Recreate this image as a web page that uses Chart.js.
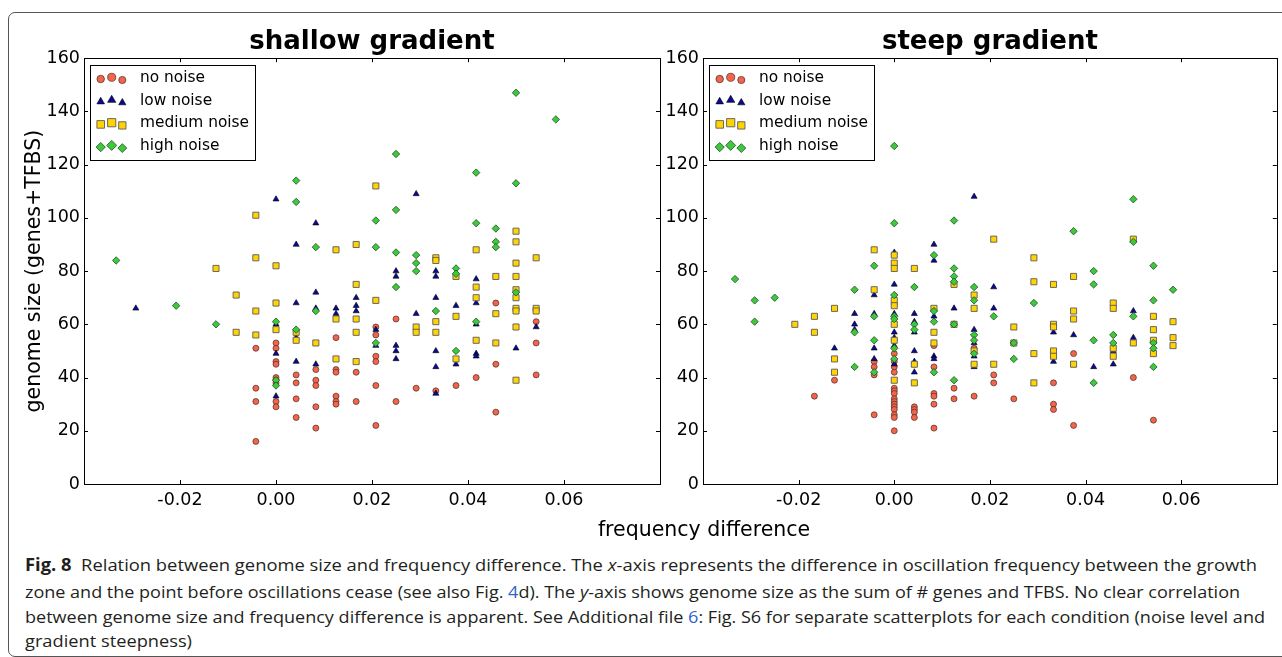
<!DOCTYPE html>
<html>
<head>
<meta charset="utf-8">
<script src="https://cdn.jsdelivr.net/npm/chart.js@4.4.1/dist/chart.umd.min.js"></script>
<style>
  html, body { margin: 0; padding: 0; background: #fff; }
  body { width: 1282px; height: 657px; position: relative; overflow: hidden; font-family: "DejaVu Sans", sans-serif; }
  #frame { position: absolute; left: 8px; top: 12px; width: 1300px; height: 643px; border: 1px solid #555; border-radius: 7px; }
  .plot { position: absolute; top: 0; }
  #xlabel { position: absolute; left: 504px; width: 400px; top: 517px; text-align: center; font-size: 20.5px; line-height: 24px; color: #000; }
  .cap { position: absolute; left: 25px; white-space: nowrap; font-family: "Open Sans", sans-serif; font-size: 17px; line-height: 24px; color: #231f20; transform-origin: 0 50%; }
  .cap b { font-weight: 700; }
  .cap .lnk { color: #2f5fd0; }
</style>
</head>
<body>
<div id="frame"></div>
<div class="plot" style="left:0px"><canvas id="shallow" width="672" height="520"></canvas></div>
<div class="plot" style="left:640px"><canvas id="steep" width="642" height="520"></canvas></div>
<div id="xlabel">frequency difference</div>
<div class="cap" data-w="1232" style="top:553px"><b>Fig. 8</b>&nbsp; Relation between genome size and frequency difference. The <i>x</i>-axis represents the difference in oscillation frequency between the growth</div>
<div class="cap" data-w="1215" style="top:580px">zone and the point before oscillations cease (see also Fig. <span class="lnk">4</span>d). The <i>y</i>-axis shows genome size as the sum of # genes and TFBS. No clear correlation</div>
<div class="cap" data-w="1240" style="top:605px">between genome size and frequency difference is apparent. See Additional file <span class="lnk">6</span>: Fig. S6 for separate scatterplots for each condition (noise level and</div>
<div class="cap" data-w="167" style="top:629px">gradient steepness)</div>

<script>
// axis ticks
const xTicks = [-0.02, 0.00, 0.02, 0.04, 0.06];
const yTicks = [0, 20, 40, 60, 80, 100, 120, 140, 160];
const seriesNames = ["no noise", "low noise", "medium noise", "high noise"];

// shallow gradient: [frequency difference, genome size]
const shallowNone = [
    [-0.0042, 51], [-0.0042, 36], [-0.0042, 31], [-0.0042, 16],
    [0, 53], [0, 51], [0, 46], [0, 45], [0, 40], [0, 39], [0, 38], [0, 31], [0, 29],
    [0.0042, 41], [0.0042, 38], [0.0042, 32], [0.0042, 25],
    [0.0083, 43], [0.0083, 39], [0.0083, 37], [0.0083, 29], [0.0083, 21],
    [0.0125, 55], [0.0125, 43], [0.0125, 42], [0.0125, 33], [0.0125, 31], [0.0125, 30],
    [0.0167, 42], [0.0167, 31],
    [0.0208, 59], [0.0208, 56], [0.0208, 48], [0.0208, 46], [0.0208, 37], [0.0208, 22],
    [0.025, 62], [0.025, 31],
    [0.0292, 36], [0.0333, 35], [0.0375, 37], [0.0417, 40],
    [0.0458, 68], [0.0458, 45], [0.0458, 27],
    [0.0542, 61], [0.0542, 53], [0.0542, 41]
];
const shallowLow = [
    [-0.0292, 66],
    [0, 107], [0, 60], [0, 49], [0, 33],
    [0.0042, 90], [0.0042, 68], [0.0042, 55], [0.0042, 46],
    [0.0083, 98], [0.0083, 72], [0.0083, 66], [0.0083, 45],
    [0.0125, 66], [0.0125, 64],
    [0.0167, 70], [0.0167, 67], [0.0167, 65],
    [0.0208, 58], [0.0208, 52],
    [0.025, 80], [0.025, 78], [0.025, 52], [0.025, 50], [0.025, 47],
    [0.0292, 109], [0.0292, 64],
    [0.0333, 80], [0.0333, 78], [0.0333, 70], [0.0333, 50], [0.0333, 44], [0.0333, 34],
    [0.0375, 67], [0.0375, 45],
    [0.0417, 77], [0.0417, 68], [0.0417, 60], [0.0417, 49], [0.0417, 48],
    [0.05, 51], [0.0542, 59]
];
const shallowMedium = [
    [-0.0125, 81],
    [-0.0083, 71], [-0.0083, 57],
    [-0.0042, 101], [-0.0042, 85], [-0.0042, 65], [-0.0042, 56],
    [0, 82], [0, 68], [0, 58],
    [0.0042, 57], [0.0042, 54],
    [0.0083, 53],
    [0.0125, 88], [0.0125, 62], [0.0125, 47],
    [0.0167, 90], [0.0167, 75], [0.0167, 62], [0.0167, 57], [0.0167, 46],
    [0.0208, 112], [0.0208, 69],
    [0.0292, 59], [0.0292, 57],
    [0.0333, 85], [0.0333, 84], [0.0333, 61], [0.0333, 57],
    [0.0375, 78], [0.0375, 63], [0.0375, 47],
    [0.0417, 88], [0.0417, 74], [0.0417, 70], [0.0417, 54],
    [0.0458, 78], [0.0458, 64], [0.0458, 53],
    [0.05, 95], [0.05, 91], [0.05, 83], [0.05, 78], [0.05, 73], [0.05, 70], [0.05, 66], [0.05, 65], [0.05, 59], [0.05, 39],
    [0.0542, 85], [0.0542, 66], [0.0542, 65]
];
const shallowHigh = [
    [-0.0333, 84], [-0.0208, 67], [-0.0125, 60],
    [0, 61], [0, 39], [0, 37],
    [0.0042, 114], [0.0042, 106], [0.0042, 58],
    [0.0083, 89], [0.0083, 65],
    [0.0208, 99], [0.0208, 89], [0.0208, 53],
    [0.025, 124], [0.025, 103], [0.025, 87], [0.025, 74],
    [0.0292, 86], [0.0292, 83], [0.0292, 80],
    [0.0333, 65],
    [0.0375, 81], [0.0375, 79], [0.0375, 50],
    [0.0417, 117], [0.0417, 98], [0.0417, 61],
    [0.0458, 96], [0.0458, 91], [0.0458, 89],
    [0.05, 147], [0.05, 113], [0.05, 72],
    [0.0583, 137]
];

// steep gradient
const steepNone = [
    [-0.0167, 33], [-0.0125, 39],
    [-0.0042, 46], [-0.0042, 44], [-0.0042, 41], [-0.0042, 26],
    [0, 49], [0, 46], [0, 44], [0, 42], [0, 36], [0, 35], [0, 34], [0, 32], [0, 31], [0, 30], [0, 29], [0, 28], [0, 26], [0, 25], [0, 20],
    [0.0042, 29], [0.0042, 28], [0.0042, 27], [0.0042, 25],
    [0.0083, 52], [0.0083, 44], [0.0083, 34], [0.0083, 33], [0.0083, 30], [0.0083, 21],
    [0.0125, 36], [0.0125, 32],
    [0.0167, 51], [0.0167, 33],
    [0.0208, 41], [0.0208, 38],
    [0.025, 32],
    [0.0333, 38], [0.0333, 30], [0.0333, 28],
    [0.0375, 49], [0.0375, 22],
    [0.05, 40], [0.0542, 24]
];
const steepLow = [
    [-0.0125, 51],
    [-0.0083, 64], [-0.0083, 60], [-0.0083, 58],
    [-0.0042, 71], [-0.0042, 64], [-0.0042, 51], [-0.0042, 47],
    [0, 87], [0, 75], [0, 68], [0, 64], [0, 57], [0, 55], [0, 52], [0, 45],
    [0.0042, 64], [0.0042, 61], [0.0042, 57], [0.0042, 50], [0.0042, 46], [0.0042, 42],
    [0.0083, 90], [0.0083, 84], [0.0083, 63], [0.0083, 48], [0.0083, 47],
    [0.0125, 66],
    [0.0167, 108], [0.0167, 58], [0.0167, 53], [0.0167, 48], [0.0167, 44],
    [0.0208, 74], [0.0208, 66],
    [0.0333, 57], [0.0333, 46],
    [0.0375, 56], [0.0417, 44],
    [0.0458, 50], [0.0458, 45],
    [0.05, 65], [0.05, 55]
];
const steepMedium = [
    [-0.0208, 60],
    [-0.0167, 63], [-0.0167, 57],
    [-0.0125, 66], [-0.0125, 47], [-0.0125, 42],
    [-0.0042, 88], [-0.0042, 73],
    [0, 86], [0, 83], [0, 81], [0, 69], [0, 67], [0, 60], [0, 54], [0, 39],
    [0.0042, 81], [0.0042, 45], [0.0042, 38],
    [0.0083, 66], [0.0083, 57], [0.0083, 53],
    [0.0125, 75], [0.0125, 60],
    [0.0167, 71], [0.0167, 66], [0.0167, 50], [0.0167, 45],
    [0.0208, 92], [0.0208, 45],
    [0.025, 59], [0.025, 53],
    [0.0292, 85], [0.0292, 76], [0.0292, 49], [0.0292, 38],
    [0.0333, 75], [0.0333, 60], [0.0333, 59], [0.0333, 50], [0.0333, 48],
    [0.0375, 78], [0.0375, 65], [0.0375, 62], [0.0375, 45],
    [0.0458, 68], [0.0458, 66], [0.0458, 51], [0.0458, 48],
    [0.05, 92], [0.05, 53],
    [0.0542, 63], [0.0542, 58], [0.0542, 54], [0.0542, 49],
    [0.0583, 61], [0.0583, 55], [0.0583, 52]
];
const steepHigh = [
    [-0.0333, 77],
    [-0.0292, 69], [-0.0292, 61],
    [-0.025, 70],
    [-0.0083, 73], [-0.0083, 57], [-0.0083, 44],
    [-0.0042, 82], [-0.0042, 63], [-0.0042, 54], [-0.0042, 42],
    [0, 127], [0, 98], [0, 71], [0, 63], [0, 62], [0, 51], [0, 47],
    [0.0042, 74], [0.0042, 60], [0.0042, 58],
    [0.0083, 86], [0.0083, 65], [0.0083, 61], [0.0083, 42],
    [0.0125, 99], [0.0125, 81], [0.0125, 78], [0.0125, 76], [0.0125, 60], [0.0125, 39],
    [0.0167, 74], [0.0167, 69], [0.0167, 56], [0.0167, 54], [0.0167, 49],
    [0.0208, 63],
    [0.025, 53], [0.025, 47],
    [0.0292, 68],
    [0.0375, 95],
    [0.0417, 80], [0.0417, 75], [0.0417, 54], [0.0417, 38],
    [0.0458, 56], [0.0458, 53],
    [0.05, 107], [0.05, 91], [0.05, 63],
    [0.0542, 82], [0.0542, 69], [0.0542, 53], [0.0542, 51], [0.0542, 44],
    [0.0583, 73]
];

// marker look per noise level (matplotlib-like)
const markerStyles = [
    { pointStyle: "circle",   pointRadius: 3.0, backgroundColor: "#f2654b", borderColor: "#4a2a24", borderWidth: 0.7, order: 4 },
    { pointStyle: "triangle", pointRadius: 3.5, backgroundColor: "#0a0a96", borderColor: "#000000", borderWidth: 0.6, order: 3 },
    { pointStyle: "rect",     pointRadius: 4.3, backgroundColor: "#ffd400", borderColor: "#5a5a5a", borderWidth: 0.9, order: 2 },
    { pointStyle: "rectRot",  pointRadius: 3.7, backgroundColor: "#3ec83e", borderColor: "#1f4f1f", borderWidth: 0.8, order: 1 }
];

// three legend markers per entry: [dx, dy, scale]
const legendMarks = [[10.7, 1, 1.25], [21.7, -0.7, 1.35], [32.3, 2, 1.2]];

function drawMarker(ctx, style, r, x, y) {
    ctx.fillStyle = style.backgroundColor;
    ctx.strokeStyle = style.borderColor;
    ctx.lineWidth = style.borderWidth;
    Chart.helpers.drawPoint(ctx, { pointStyle: style.pointStyle, radius: r, borderWidth: style.borderWidth, rotation: 0 }, x, y);
}

const markerLegend = {
    id: "markerLegend",
    afterDraw(chart) {
        const ctx = chart.ctx, a = chart.chartArea;
        const bx = Math.round(a.left + 6), by = Math.round(a.top + 6.5), bw = 165, bh = 95;
        ctx.save();
        ctx.fillStyle = "#fff";
        ctx.fillRect(bx, by, bw, bh);
        ctx.strokeStyle = "#000";
        ctx.lineWidth = 1;
        ctx.strokeRect(bx + 0.5, by + 0.5, bw, bh);
        chart.data.datasets.forEach((ds, i) => {
            const cy = by + 13 + i * 22.7;
            legendMarks.forEach(([dx, dy, s]) => drawMarker(ctx, markerStyles[i], ds.pointRadius * s, bx + dx, cy + dy));
            ctx.fillStyle = "#000";
            ctx.font = '15.4px "DejaVu Sans"';
            ctx.textBaseline = "middle";
            ctx.textAlign = "left";
            ctx.fillText(ds.label, bx + 50, cy);
        });
        ctx.restore();
    }
};

// box round the plot and inward tick marks on all four sides
const frameTicks = {
    id: "frameTicks",
    afterDatasetsDraw(chart) {
        const ctx = chart.ctx, a = chart.chartArea, sx = chart.scales.x, sy = chart.scales.y;
        ctx.save();
        ctx.strokeStyle = "#000";
        ctx.lineWidth = 1;
        ctx.beginPath();
        xTicks.forEach(v => {
            const px = Math.round(sx.getPixelForValue(v)) + 0.5;
            ctx.moveTo(px, a.bottom); ctx.lineTo(px, a.bottom - 4);
            ctx.moveTo(px, a.top); ctx.lineTo(px, a.top + 4);
        });
        yTicks.forEach(v => {
            const py = Math.round(sy.getPixelForValue(v)) + 0.5;
            ctx.moveTo(a.left, py); ctx.lineTo(a.left + 4, py);
            ctx.moveTo(a.right, py); ctx.lineTo(a.right - 4, py);
        });
        ctx.stroke();
        ctx.strokeRect(Math.round(a.left) + 0.5, Math.round(a.top) + 0.5, Math.round(a.right - a.left), Math.round(a.bottom - a.top));
        ctx.restore();
    }
};

function makeChart(id, title, groups, yAxisWidth, pad, showYTitle) {
    const tickFont = { family: "DejaVu Sans", size: 17.5 };
    return new Chart(document.getElementById(id), {
        type: "scatter",
        data: {
            datasets: groups.map((pts, i) => Object.assign({
                label: seriesNames[i],
                data: pts.map(p => ({ x: p[0], y: p[1] }))
            }, markerStyles[i]))
        },
        options: {
            responsive: false,
            animation: false,
            devicePixelRatio: 1,
            layout: { padding: pad },
            plugins: {
                legend: { display: false },
                tooltip: { enabled: false },
                title: {
                    display: true,
                    text: title,
                    fullSize: false,
                    color: "#000",
                    font: { family: "DejaVu Sans", size: 26, weight: "bold" },
                    padding: { top: 27, bottom: 0 }
                }
            },
            scales: {
                x: {
                    type: "linear",
                    min: -0.04,
                    max: 0.08,
                    afterBuildTicks: s => { s.ticks = xTicks.map(v => ({ value: v })); },
                    afterFit: s => { s.height = 36; },
                    grid: { display: false, drawTicks: false },
                    border: { display: false },
                    ticks: { color: "#000", font: tickFont, padding: 6, maxRotation: 0, callback: v => v.toFixed(2) }
                },
                y: {
                    min: 0,
                    max: 160,
                    afterBuildTicks: s => { s.ticks = yTicks.map(v => ({ value: v })); },
                    afterFit: s => { s.width = yAxisWidth; },
                    grid: { display: false, drawTicks: false },
                    border: { display: false },
                    ticks: { color: "#000", font: tickFont, padding: 4 },
                    title: {
                        display: showYTitle,
                        text: "genome size (genes+TFBS)",
                        color: "#000",
                        font: { family: "DejaVu Sans", size: 20.5 },
                        padding: { top: 0, bottom: 0 }
                    }
                }
            }
        },
        plugins: [frameTicks, markerLegend]
    });
}

makeChart("shallow", "shallow gradient", [shallowNone, shallowLow, shallowMedium, shallowHigh], 62, { left: 22, right: 12, top: 0, bottom: 0 }, true);
makeChart("steep", "steep gradient", [steepNone, steepLow, steepMedium, steepHigh], 63, { left: 0, right: 2, top: 0, bottom: 0 }, false);

// squeeze caption lines to the width they take in the figure
function fitCaption() {
    document.querySelectorAll(".cap").forEach(el => {
        el.style.transform = "none";
        const w = el.getBoundingClientRect().width;
        el.style.transform = "scaleX(" + (Number(el.dataset.w) / w) + ")";
    });
}
fitCaption();
if (document.fonts) document.fonts.ready.then(fitCaption);
</script>
</body>
</html>
